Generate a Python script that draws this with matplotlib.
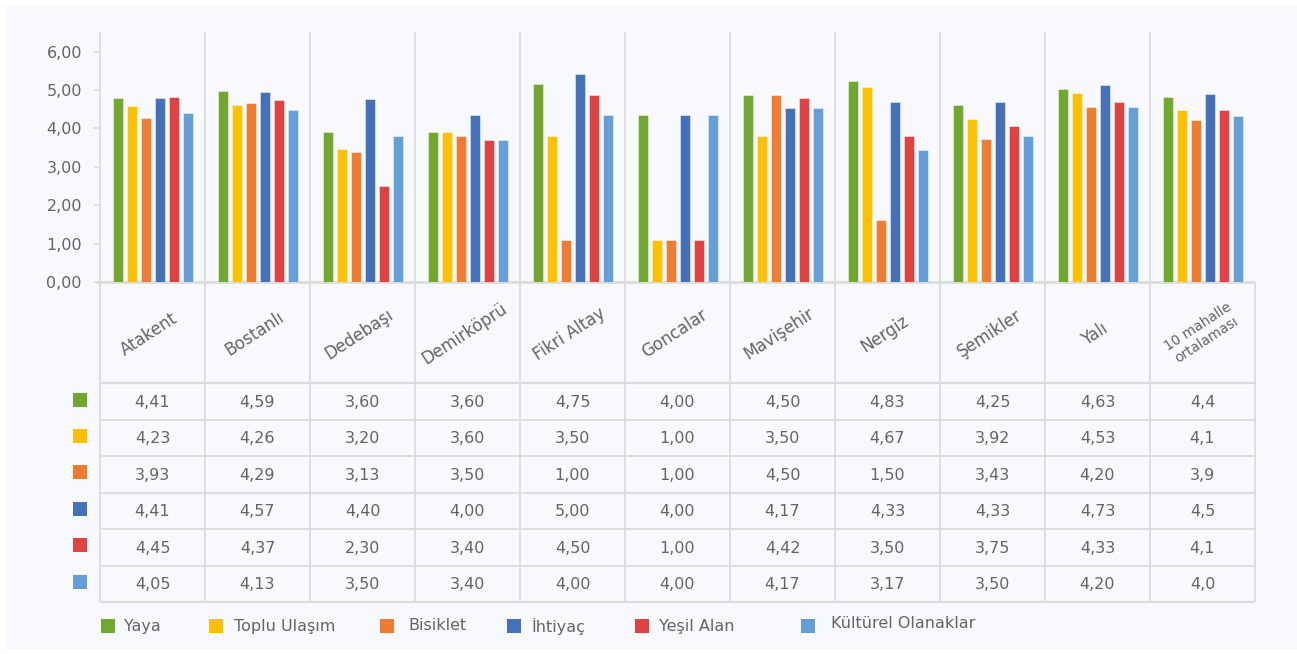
import matplotlib
matplotlib.use("Agg")
import matplotlib.pyplot as plt
from matplotlib.patches import Rectangle
import numpy as np

# ---------------- data ----------------
neighborhoods = ["Atakent", "Bostanlı", "Dedebaşı", "Demirköprü", "Fikri Altay",
                 "Goncalar", "Mavişehir", "Nergiz", "Şemikler", "Yalı",
                 "10 mahalle\nortalaması"]
series_names = ["Yaya", "Toplu Ulaşım", "Bisiklet", "İhtiyaç", "Yeşil Alan",
                "Kültürel Olanaklar"]
yaya = [4.41, 4.59, 3.60, 3.60, 4.75, 4.00, 4.50, 4.83, 4.25, 4.63, 4.44]
toplu = [4.23, 4.26, 3.20, 3.60, 3.50, 1.00, 3.50, 4.67, 3.92, 4.53, 4.13]
bisiklet = [3.93, 4.29, 3.13, 3.50, 1.00, 1.00, 4.50, 1.50, 3.43, 4.20, 3.89]
ihtiyac = [4.41, 4.57, 4.40, 4.00, 5.00, 4.00, 4.17, 4.33, 4.33, 4.73, 4.51]
yesil = [4.45, 4.37, 2.30, 3.40, 4.50, 1.00, 4.42, 3.50, 3.75, 4.33, 4.13]
kultur = [4.05, 4.13, 3.50, 3.40, 4.00, 4.00, 4.17, 3.17, 3.50, 4.20, 3.98]
tick_labels = ["0,00", "1,00", "2,00", "3,00", "4,00", "5,00", "6,00"]

series = [yaya, toplu, bisiklet, ihtiyac, yesil, kultur]
colors = ["#72a832", "#ffc000", "#ee7d31", "#4571b8", "#e04141", "#659fd7"]

# ---------------- figure ----------------
W, H = 1297, 654
DPI = 100
fig = plt.figure(figsize=(W / DPI, H / DPI), dpi=DPI, facecolor="white")
plt.rcParams["font.family"] = ["DejaVu Sans"]
TXT = "#646464"
GRID = "#dcdcdc"
BG = "#f8f9fd"

def fx(x):
    return x / W

def fy(y):
    return 1 - y / H

# overlay axes in pixel coordinates
ov = fig.add_axes([0, 0, 1, 1], zorder=0)
ov.set_xlim(0, W)
ov.set_ylim(H, 0)
ov.axis("off")
ov.add_patch(Rectangle((6, 5), W - 6, H - 9, facecolor=BG, edgecolor="none"))

X0, X1 = 100, 1255
Y_TOP, Y_AX, Y_TB = 32, 282, 602
ncol = len(neighborhoods)
colw = (X1 - X0) / ncol

# column separators
for i in range(ncol + 1):
    x = X0 + i * colw
    ytop = Y_TOP if i < ncol else Y_AX
    ov.plot([x, x], [ytop, Y_TB], color=GRID, lw=1.3, solid_capstyle="butt")
# axis line
ov.plot([96, X1], [Y_AX, Y_AX], color=GRID, lw=2.0, solid_capstyle="butt")
# table rows
Y_HDR = 383.3
rowh = (Y_TB - Y_HDR) / 6
for r in range(7):
    y = Y_HDR + r * rowh
    ov.plot([X0, X1], [y, y], color=GRID, lw=1.6 if r in (0, 6) else 1.3,
            solid_capstyle="butt")

# ---------------- bar chart ----------------
ax = fig.add_axes([fx(X0), fy(Y_AX), (X1 - X0) / W, (Y_AX - Y_TOP) / H], zorder=2)
ax.set_facecolor("none")
x = np.arange(ncol)
bw = 10 / colw
step = 14 / colw
for j, (vals, c) in enumerate(zip(series, colors)):
    ax.bar(x + (j - 2.5) * step, vals, width=bw, color=c,
           edgecolor=(1, 1, 1, 0.45), linewidth=0.7, zorder=3)
ax.set_xlim(-0.5, ncol - 0.5)
ax.set_ylim(0, 6)
k = 0.922
ax.set_yticks(np.arange(len(tick_labels)) * k)
ax.set_yticklabels(tick_labels, fontsize=11.5, color=TXT)
ax.tick_params(axis="y", length=4, width=1.2, color=GRID, pad=9)
ax.set_xticks([])
for s in ax.spines.values():
    s.set_visible(False)

# ---------------- table ----------------
for i, name in enumerate(neighborhoods):
    cx = X0 + (i + 0.5) * colw
    if i == ncol - 1:
        ov.text(cx, 333, name, rotation=33, rotation_mode="anchor",
                ha="center", va="center", fontsize=9.8, color=TXT,
                multialignment="center", linespacing=1.1)
    else:
        ov.text(cx - 3, 334, name, rotation=33, rotation_mode="anchor",
                ha="center", va="center", fontsize=12, color=TXT)

for r, (vals, c) in enumerate(zip(series, colors)):
    cy = Y_HDR + (r + 0.5) * rowh
    ov.add_patch(Rectangle((73, cy - 9), 14, 14, facecolor=c, edgecolor="none"))
    for i, v in enumerate(vals):
        cx = X0 + (i + 0.5) * colw
        s = f"{v:.1f}" if i == ncol - 1 else f"{v:.2f}"
        ov.text(cx, cy + 1, s.replace(".", ","), ha="center", va="center",
                fontsize=11.5, color=TXT)

# ---------------- legend ----------------
leg_sq = [101, 209, 380, 507, 635, 801]
leg_tx = [124, 234, 408, 531, 659, 831]
for j, (name, c) in enumerate(zip(series_names, colors)):
    ov.add_patch(Rectangle((leg_sq[j], 619), 14, 14, facecolor=c, edgecolor="none"))
    ty = 623 if j == len(series_names) - 1 else 626
    ov.text(leg_tx[j], ty, name, ha="left", va="center", fontsize=11.5, color=TXT)

fig.savefig("out.png", dpi=DPI, facecolor="white")
